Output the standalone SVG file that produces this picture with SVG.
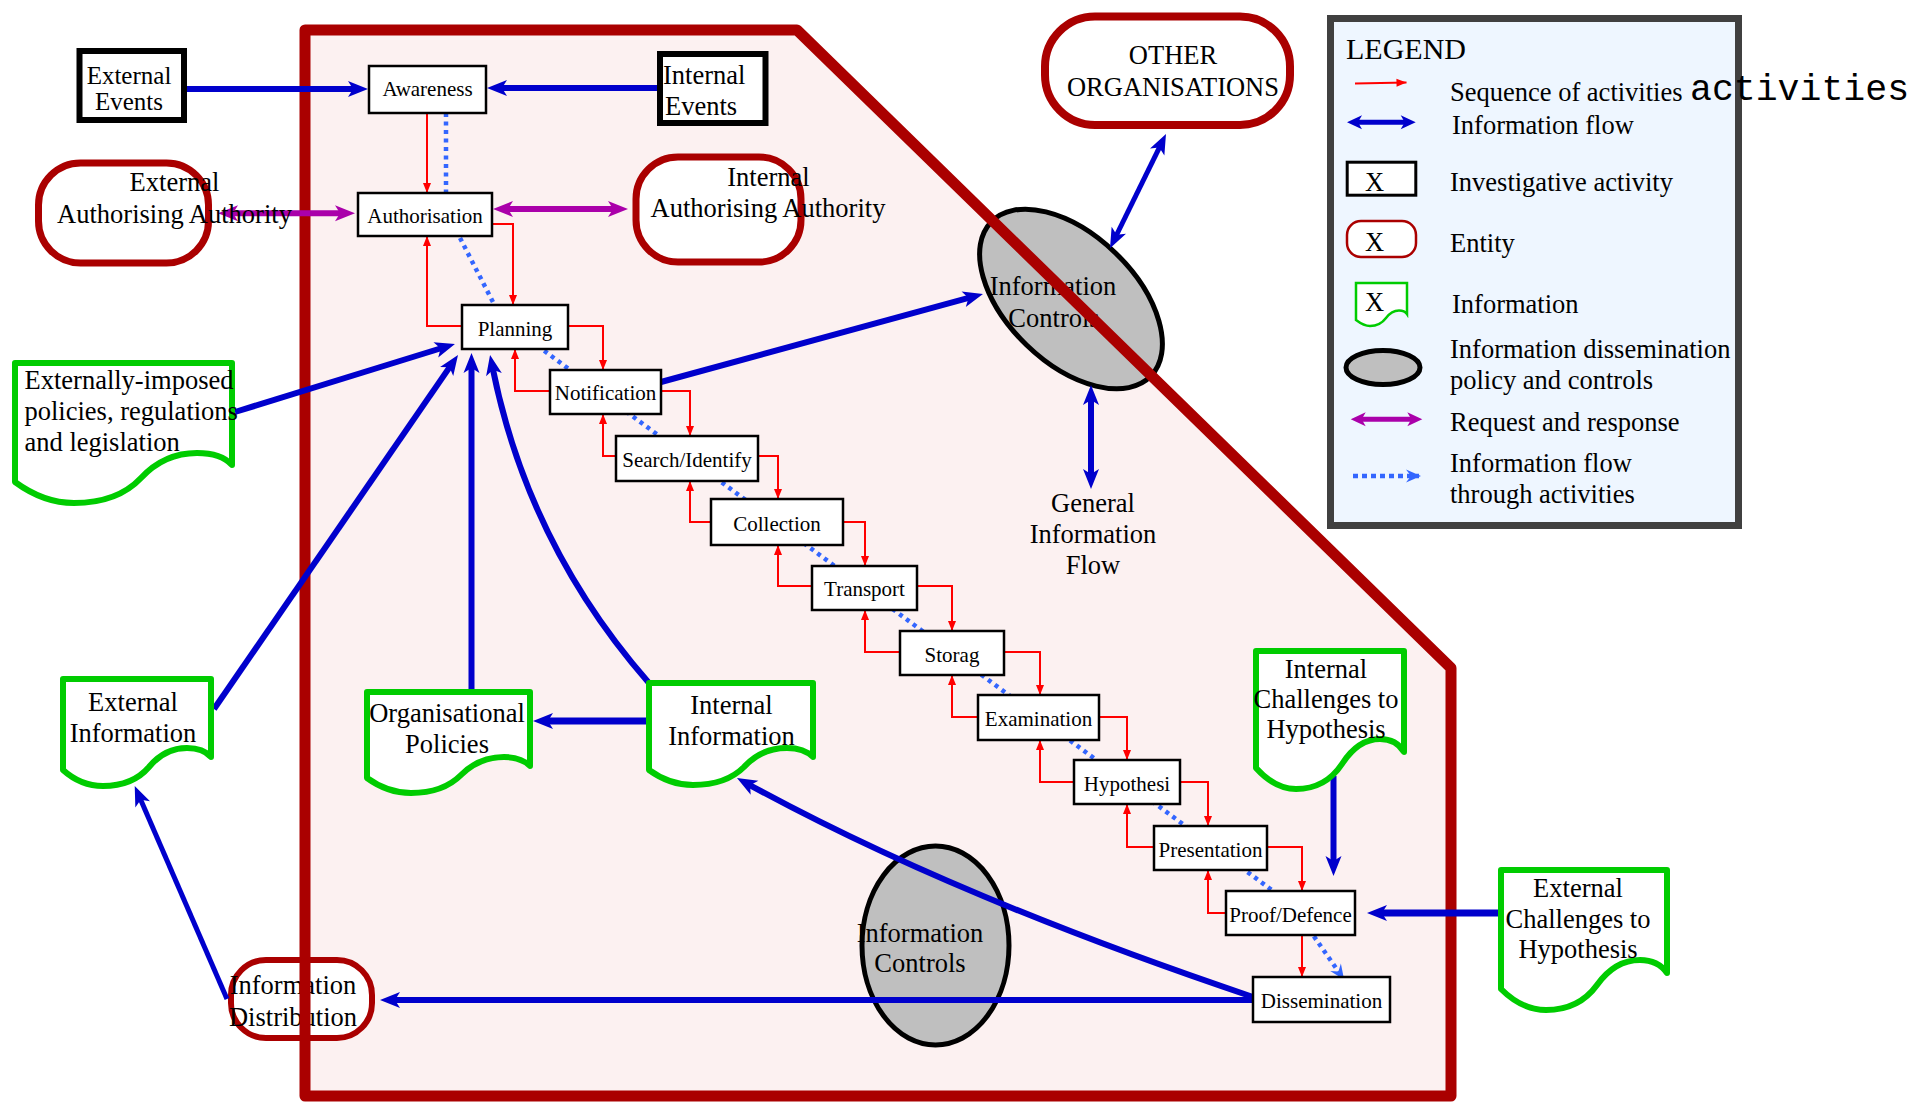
<svg xmlns="http://www.w3.org/2000/svg" width="1915" height="1102" viewBox="0 0 1915 1102">
<style>
.box{fill:#fff;stroke:#000;stroke-width:2.5}
.ent{fill:#fff;stroke:#aa0000;stroke-width:7}
.doc{fill:#fff;stroke:#00cc00;stroke-width:6;stroke-linejoin:round}
.ctl{fill:#bfbfbf;stroke:#000;stroke-width:5}
.ev{fill:#fff;stroke:#000;stroke-width:6}
.t{font-family:"Liberation Serif","Times New Roman",serif;fill:#000}
.tl{font-size:26.5px}
.ts{font-size:21px}
.mid{text-anchor:middle}
.blue{fill:none;stroke:#0000cc;stroke-width:6}
.red{fill:none;stroke:#ff0000;stroke-width:2}
.purple{fill:none;stroke:#aa00aa;stroke-width:6}
.dot{fill:none;stroke:#3366ff;stroke-width:4.5;stroke-dasharray:4 4.5}
</style>
<defs>
<marker id="mb" markerUnits="userSpaceOnUse" markerWidth="20" markerHeight="16" refX="8" refY="8" orient="auto-start-reverse" overflow="visible"><path d="M0,0 L20,8 L0,16 L5,8 Z" fill="#0000cc"/></marker>
<marker id="mbs" markerUnits="userSpaceOnUse" markerWidth="15" markerHeight="14" refX="6" refY="7" orient="auto-start-reverse" overflow="visible"><path d="M0,0 L15,7 L0,14 L4,7 Z" fill="#0000cc"/></marker>
<marker id="mp" markerUnits="userSpaceOnUse" markerWidth="20" markerHeight="16" refX="8" refY="8" orient="auto-start-reverse" overflow="visible"><path d="M0,0 L20,8 L0,16 L5,8 Z" fill="#aa00aa"/></marker>
<marker id="mps" markerUnits="userSpaceOnUse" markerWidth="15" markerHeight="14" refX="6" refY="7" orient="auto-start-reverse" overflow="visible"><path d="M0,0 L15,7 L0,14 L4,7 Z" fill="#aa00aa"/></marker>
<marker id="mr" markerUnits="userSpaceOnUse" markerWidth="10" markerHeight="8" refX="10" refY="4" orient="auto" overflow="visible"><path d="M0,0 L10,4 L0,8 Z" fill="#ff0000"/></marker>
<marker id="md" markerUnits="userSpaceOnUse" markerWidth="15" markerHeight="13" refX="13" refY="6.5" orient="auto" overflow="visible"><path d="M0,0 L15,6.5 L0,13 L5,6.5 Z" fill="#3366ff"/></marker>
</defs>

<rect x="0" y="0" width="1915" height="1102" fill="#fff"/>

<g id="boundary-fill">
<polygon points="305,30 797,30 1451,668 1451,1096 305,1096" fill="#fcf1f1"/>
</g>

<g id="node-info-controls-lower">
<ellipse class="ctl" cx="935.5" cy="945.5" rx="73.5" ry="99.5"/>
<text class="t tl mid" x="920" y="942">Information</text>
<text class="t tl mid" x="920" y="972">Controls</text>
</g>
<g id="node-info-controls-upper">
<ellipse class="ctl" cx="1071" cy="299" rx="111" ry="64" transform="rotate(44 1071 299)"/>
<text class="t tl mid" x="1053" y="295">Information</text>
<text class="t tl mid" x="1054" y="327">Controls</text>
</g>
<g id="node-info-distribution">
<rect class="ent" x="231" y="960" width="141" height="78" rx="35" ry="35" style="stroke-width:6"/>
<text class="t tl mid" x="293" y="993.5">Information</text>
<text class="t tl mid" x="293" y="1025.5">Distribution</text>
</g>

<g id="boundary">
<polygon points="305,30 797,30 1451,668 1451,1096 305,1096" fill="none" stroke="#aa0000" stroke-width="11" stroke-linejoin="round"/>
</g>

<g id="connectors">
<path class="dot" d="M446,113 L446,200 L459,236 L495,306 L500,318 L1292,905 L1343,978" marker-end="url(#md)"/>
<path class="red" d="M427,113 V193" marker-end="url(#mr)"/>
<path class="red" d="M492,224 H513 V305" marker-end="url(#mr)"/>
<path class="red" d="M462,326 H427 V236" marker-end="url(#mr)"/>
<path class="red" d="M568,326 H603 V370" marker-end="url(#mr)"/>
<path class="red" d="M550,391 H515 V349" marker-end="url(#mr)"/>
<path class="red" d="M661,391 H690 V436" marker-end="url(#mr)"/>
<path class="red" d="M616,456 H603 V414" marker-end="url(#mr)"/>
<path class="red" d="M758,456 H778 V499" marker-end="url(#mr)"/>
<path class="red" d="M711,522 H690 V481" marker-end="url(#mr)"/>
<path class="red" d="M843,522 H865 V566" marker-end="url(#mr)"/>
<path class="red" d="M812,586 H778 V545" marker-end="url(#mr)"/>
<path class="red" d="M917,586 H952 V631" marker-end="url(#mr)"/>
<path class="red" d="M900,652 H865 V610" marker-end="url(#mr)"/>
<path class="red" d="M1004,652 H1040 V695" marker-end="url(#mr)"/>
<path class="red" d="M978,717 H952 V675" marker-end="url(#mr)"/>
<path class="red" d="M1099,717 H1127 V760" marker-end="url(#mr)"/>
<path class="red" d="M1074,782 H1040 V740" marker-end="url(#mr)"/>
<path class="red" d="M1180,782 H1208 V826" marker-end="url(#mr)"/>
<path class="red" d="M1154,847 H1127 V804" marker-end="url(#mr)"/>
<path class="red" d="M1267,847 H1302 V891" marker-end="url(#mr)"/>
<path class="red" d="M1226,913 H1208 V870" marker-end="url(#mr)"/>
<path class="red" d="M1302,935 V977" marker-end="url(#mr)"/>

<path class="purple" d="M230,213.3 H343" marker-start="url(#mp)" marker-end="url(#mp)"/>
<path class="purple" d="M505,209 H616" marker-start="url(#mp)" marker-end="url(#mp)"/>

<path class="blue" d="M184,89 H356" marker-end="url(#mb)"/>
<path class="blue" d="M660,88 H499" marker-end="url(#mb)"/>
<path class="blue" d="M235,412 L443.5,347.5" marker-end="url(#mb)"/>
<path class="blue" d="M214,709 L451.2,364.9" marker-end="url(#mb)"/>
<path class="blue" d="M471.5,692 V365" marker-end="url(#mb)"/>
<path class="blue" d="M649,683 Q528,545 492.4,366.8" marker-end="url(#mb)"/>
<path class="blue" d="M661,382 L971.4,297.2" marker-end="url(#mb)"/>
<path class="blue" d="M1115.3,237.5 L1160.7,144.8" style="stroke-width:5" marker-start="url(#mb)" marker-end="url(#mb)"/>
<path class="blue" d="M1091,397 V477" marker-start="url(#mb)" marker-end="url(#mb)"/>
<path class="blue" d="M646,721 H545" style="stroke-width:7" marker-end="url(#mb)"/>
<path class="blue" d="M1253,1000 H392" marker-end="url(#mb)"/>
<path class="blue" d="M227,999 L139.5,797" style="stroke-width:5" marker-end="url(#mb)"/>
<path class="blue" d="M1253,997 Q950,895 747.5,783.8" marker-end="url(#mb)"/>
<path class="blue" d="M1333.5,776 V864" marker-end="url(#mb)"/>
<path class="blue" d="M1501,913 H1379" style="stroke-width:7" marker-end="url(#mb)"/>
</g>

<g id="node-external-events">
<rect class="ev" x="79.5" y="51" width="104.5" height="69"/>
<text class="t mid" x="129" y="84" style="font-size:25px">External</text>
<text class="t mid" x="129" y="110" style="font-size:25px">Events</text>
</g>
<g id="node-internal-events">
<rect class="ev" x="660" y="54" width="105.5" height="69"/>
<text class="t tl" x="663" y="84">Internal</text>
<text class="t tl" x="665" y="115">Events</text>
</g>
<g id="node-external-authority">
<rect class="ent" x="38.5" y="163" width="170" height="100" rx="42" ry="42"/>
<text class="t tl mid" x="174.5" y="191">External</text>
<text class="t tl mid" x="174.5" y="223">Authorising Authority</text>
</g>
<g id="node-internal-authority">
<rect class="ent" x="636" y="157" width="165" height="105" rx="42" ry="42"/>
<text class="t tl mid" x="768.5" y="186">Internal</text>
<text class="t tl mid" x="768" y="217">Authorising Authority</text>
</g>
<g id="node-other-organisations">
<rect class="ent" x="1045" y="16.5" width="245" height="108.5" rx="50" ry="50" style="stroke-width:8"/>
<text class="t tl mid" x="1173" y="64">OTHER</text>
<text class="t tl mid" x="1173" y="96">ORGANISATIONS</text>
</g>
<g id="node-general-info-flow">
<text class="t tl mid" x="1093" y="512">General</text>
<text class="t tl mid" x="1093" y="543">Information</text>
<text class="t tl mid" x="1093" y="574">Flow</text>
</g>

<g id="node-externally-imposed">
<path class="doc" d="M15,363 H232 V465 C223,455 210,453 197,453 C171,453 154,464 141,478 C124,496 102,503 74,503 C50,503 30,493 15,482 Z"/>
<text class="t tl" x="24.5" y="389">Externally-imposed</text>
<text class="t tl" x="24.5" y="420">policies, regulations</text>
<text class="t tl" x="24.5" y="451">and legislation</text>
</g>
<g id="node-external-information">
<path class="doc" d="M63,679 H211 V757 C205,750 196,748 187,748 C170,748 158,756 149,767 C137,781 122,786 103,786 C87,786 73,779 63,770 Z"/>
<text class="t tl mid" x="133" y="711">External</text>
<text class="t tl mid" x="133" y="742">Information</text>
</g>
<g id="node-organisational-policies">
<path class="doc" d="M367,692 H530 V766 C523,759 514,757 504,757 C484,757 471,765 461,775 C448,788 432,793 411,793 C393,793 378,786 367,778 Z"/>
<text class="t tl mid" x="447" y="722">Organisational</text>
<text class="t tl mid" x="447" y="752.5">Policies</text>
</g>
<g id="node-internal-information">
<path class="doc" d="M649,683 H813 V757 C806,750 797,748 787,748 C767,748 754,756 744,767 C731,780 715,785 693,785 C675,785 660,778 649,770 Z"/>
<text class="t tl mid" x="731.5" y="714">Internal</text>
<text class="t tl mid" x="731.5" y="745">Information</text>
</g>
<g id="node-internal-challenges">
<path class="doc" d="M1256,651 H1404 V752 C1398,742 1389,739 1380,739 C1363,739 1351,750 1342,764 C1330,782 1315,789 1296,789 C1280,789 1266,779 1256,768 Z"/>
<text class="t tl mid" x="1326" y="677.5">Internal</text>
<text class="t tl mid" x="1326" y="708">Challenges to</text>
<text class="t tl mid" x="1326" y="738">Hypothesis</text>
</g>
<g id="node-external-challenges">
<path class="doc" d="M1501,870 H1667 V973 C1660,963 1650,960 1640,960 C1620,960 1607,971 1597,985 C1584,1003 1567,1010 1546,1010 C1528,1010 1513,1001 1501,989 Z"/>
<text class="t tl mid" x="1578" y="897">External</text>
<text class="t tl mid" x="1578" y="927.5">Challenges to</text>
<text class="t tl mid" x="1578" y="958">Hypothesis</text>
</g>

<g id="node-awareness"><rect class="box" x="369" y="66" width="117" height="47"/><text class="t ts mid" x="427.5" y="96">Awareness</text></g>
<g id="node-authorisation"><rect class="box" x="358" y="193" width="134" height="43"/><text class="t ts mid" x="425" y="223">Authorisation</text></g>
<g id="node-planning"><rect class="box" x="462" y="305" width="106" height="44"/><text class="t ts mid" x="515" y="336">Planning</text></g>
<g id="node-notification"><rect class="box" x="550" y="370" width="111" height="44"/><text class="t ts mid" x="605.5" y="400">Notification</text></g>
<g id="node-search"><rect class="box" x="616" y="436" width="142" height="45"/><text class="t ts mid" x="687" y="467">Search/Identify</text></g>
<g id="node-collection"><rect class="box" x="711" y="499" width="132" height="46"/><text class="t ts mid" x="777" y="530.5">Collection</text></g>
<g id="node-transport"><rect class="box" x="812" y="566" width="105" height="44"/><text class="t ts mid" x="864.5" y="596">Transport</text></g>
<g id="node-storag"><rect class="box" x="900" y="631" width="104" height="44"/><text class="t ts mid" x="952" y="661.5">Storag</text></g>
<g id="node-examination"><rect class="box" x="978" y="695" width="121" height="45"/><text class="t ts mid" x="1038.5" y="726">Examination</text></g>
<g id="node-hypothesi"><rect class="box" x="1074" y="760" width="106" height="44"/><text class="t ts mid" x="1127" y="791">Hypothesi</text></g>
<g id="node-presentation"><rect class="box" x="1154" y="826" width="113" height="44"/><text class="t ts mid" x="1210.5" y="856.5">Presentation</text></g>
<g id="node-proof"><rect class="box" x="1226" y="891" width="129" height="44"/><text class="t ts mid" x="1290.5" y="922">Proof/Defence</text></g>
<g id="node-dissemination"><rect class="box" x="1253" y="977" width="137" height="45"/><text class="t ts mid" x="1321.5" y="1008">Dissemination</text></g>

<g id="legend">
<rect x="1330.5" y="18.5" width="408" height="507" fill="#eef6ff" stroke="#404040" stroke-width="7"/>
<text class="t" x="1346" y="59" style="font-size:30px">LEGEND</text>
<path class="red" d="M1355,83.5 L1406.5,82.5" marker-end="url(#mr)"/>
<text class="t tl" x="1450" y="101">Sequence of activities</text>
<text x="1690" y="100" style="font-family:'Liberation Mono','Courier New',monospace;font-size:36.5px">activities</text>
<path class="blue" d="M1356,122.3 H1406.7" style="stroke-width:5" marker-start="url(#mbs)" marker-end="url(#mbs)"/>
<text class="t tl" x="1452" y="134">Information flow</text>
<rect x="1347.2" y="162.2" width="68.6" height="33" fill="#fff" stroke="#000" stroke-width="3"/>
<text class="t tl" x="1365" y="191">X</text>
<text class="t tl" x="1450" y="191">Investigative activity</text>
<rect x="1347" y="221" width="69" height="36" rx="14" ry="14" fill="#fff" stroke="#aa0000" stroke-width="2.5"/>
<text class="t tl" x="1365" y="250.5">X</text>
<text class="t tl" x="1450" y="252">Entity</text>
<path d="M1356,283 H1407 V314 C1405,311 1402,310.5 1399,310.5 C1393,310.5 1389,314 1386,318 C1381.5,324 1376,326 1370,326 C1364,326 1360,323 1356,320 Z" fill="#fff" stroke="#00cc00" stroke-width="2.5"/>
<text class="t tl" x="1365" y="311">X</text>
<text class="t tl" x="1452" y="312.5">Information</text>
<ellipse cx="1383" cy="367.5" rx="37" ry="17" fill="#bfbfbf" stroke="#000" stroke-width="5"/>
<text class="t tl" x="1450" y="358">Information dissemination</text>
<text class="t tl" x="1450" y="389">policy and controls</text>
<path class="purple" d="M1359.7,419.3 H1413.3" style="stroke-width:5" marker-start="url(#mps)" marker-end="url(#mps)"/>
<text class="t tl" x="1450" y="431">Request and response</text>
<path class="dot" d="M1353,476 H1419" style="stroke-dasharray:5 4" marker-end="url(#md)"/>
<text class="t tl" x="1450" y="472">Information flow</text>
<text class="t tl" x="1450" y="502.5">through activities</text>
</g>
</svg>
